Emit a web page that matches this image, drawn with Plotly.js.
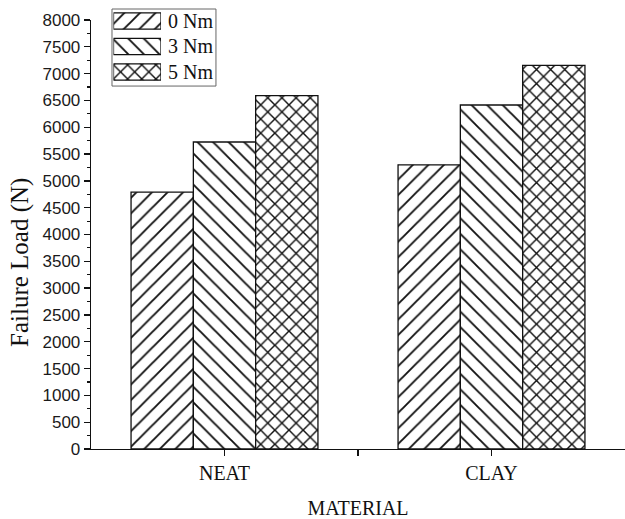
<!DOCTYPE html>
<html>
<head>
<meta charset="utf-8">
<script src="https://cdn.plot.ly/plotly-3.0.1.min.js"></script>
<style>
  html, body { margin: 0; padding: 0; background: #fff; }
  #chart { width: 625px; height: 519px; }
</style>
</head>
<body>
<div id="chart"></div>
<script>
// Failure load per material for each tightening torque
const materials = ['NEAT', 'CLAY'];
const torques = ['0 Nm', '3 Nm', '5 Nm'];
const load0Nm = [4790, 5300];
const load3Nm = [5725, 6415];
const load5Nm = [6590, 7155];
const yTicks = [0, 500, 1000, 1500, 2000, 2500, 3000, 3500, 4000, 4500, 5000, 5500, 6000, 6500, 7000, 7500, 8000];

const seriesValues = [load0Nm, load3Nm, load5Nm];
const hatches = [
  { shape: '/', size: 11, solidity: 0.17 },
  { shape: '\\', size: 11, solidity: 0.17 },
  { shape: 'x', size: 10, solidity: 0.27 }
];
const ink = '#111111';
const serif = 'Liberation Serif, Times New Roman, serif';

function hatchMarker(k, lineWidth) {
  return {
    color: '#ffffff',
    line: { color: ink, width: lineWidth },
    pattern: {
      shape: hatches[k].shape,
      size: hatches[k].size,
      solidity: hatches[k].solidity,
      fgcolor: ink,
      bgcolor: '#ffffff',
      fillmode: 'replace'
    }
  };
}

const xPos = materials.map((_, i) => i);

// main grouped bars
const traces = torques.map((name, k) => ({
  type: 'bar',
  name: name,
  x: xPos,
  y: seriesValues[k],
  xaxis: 'x', yaxis: 'y',
  marker: hatchMarker(k, 1.3),
  showlegend: false
}));

// key swatches: one short horizontal bar per torque on a small inset axis
torques.forEach((name, k) => {
  traces.push({
    type: 'bar',
    orientation: 'h',
    name: name,
    y: [name],
    x: [1],
    width: 0.64,
    xaxis: 'x2', yaxis: 'y2',
    marker: hatchMarker(k, 1.3),
    showlegend: false,
    hoverinfo: 'skip'
  });
});

const keyLabels = torques.map(name => ({
  xref: 'paper', yref: 'y2',
  x: 0.1404, y: name,
  xanchor: 'left', yanchor: 'middle',
  text: name,
  showarrow: false,
  font: { family: serif, size: 20, color: ink }
}));

// vertical axis caption, sitting a little below the axis midpoint
const yCaption = {
  xref: 'paper', yref: 'paper',
  x: -0.133, y: 0.424,
  xanchor: 'center', yanchor: 'middle',
  textangle: -90,
  text: 'Failure Load (N)',
  showarrow: false,
  font: { family: serif, size: 25, color: ink }
};

const layout = {
  width: 625,
  height: 519,
  margin: { l: 91, r: 0, t: 8, b: 70 },
  paper_bgcolor: '#ffffff',
  plot_bgcolor: 'rgba(0,0,0,0)',
  barmode: 'group',
  bargap: 0.3,
  bargroupgap: 0,
  showlegend: false,
  xaxis: {
    range: [-0.5, 1.5],
    tickvals: [0, 0.5, 1],
    ticktext: [materials[0], '', materials[1]],
    ticks: 'outside', ticklen: 6, tickwidth: 1.3, tickcolor: ink,
    showline: true, linecolor: ink, linewidth: 1.3,
    showgrid: false, zeroline: false,
    tickfont: { family: serif, size: 20, color: ink },
    title: { text: 'MATERIAL', standoff: 18,
      font: { family: serif, size: 20, color: ink } }
  },
  yaxis: {
    domain: [0, 0.9728],
    range: [0, 8000],
    tickvals: yTicks,
    ticktext: yTicks.map(String),
    ticks: 'outside', ticklen: 6, tickwidth: 1.3, tickcolor: ink,
    minor: { dtick: 250, ticks: 'outside', ticklen: 3, tickwidth: 1.1, tickcolor: ink, showgrid: false },
    showline: true, linecolor: ink, linewidth: 1.3,
    showgrid: false, zeroline: false,
    tickfont: { family: 'Liberation Sans, Arial, sans-serif', size: 17, color: '#1a1a1a' }
  },
  xaxis2: {
    domain: [0.0421, 0.1311],
    anchor: 'y2',
    range: [0, 1],
    visible: false,
    fixedrange: true
  },
  yaxis2: {
    domain: [0.826, 0.9994],
    anchor: 'x2',
    type: 'category',
    categoryorder: 'array',
    categoryarray: torques,
    range: [2.5, -0.5],
    visible: false,
    fixedrange: true
  },
  shapes: [{
    type: 'rect', xref: 'paper', yref: 'paper',
    x0: 0.0393, x1: 0.234, y0: 0.823, y1: 0.9977,
    line: { color: '#666666', width: 1 },
    fillcolor: 'rgba(0,0,0,0)',
    layer: 'above'
  }],
  annotations: keyLabels.concat([yCaption])
};

Plotly.newPlot('chart', traces, layout, { displayModeBar: false, staticPlot: true });
</script>
</body>
</html>
